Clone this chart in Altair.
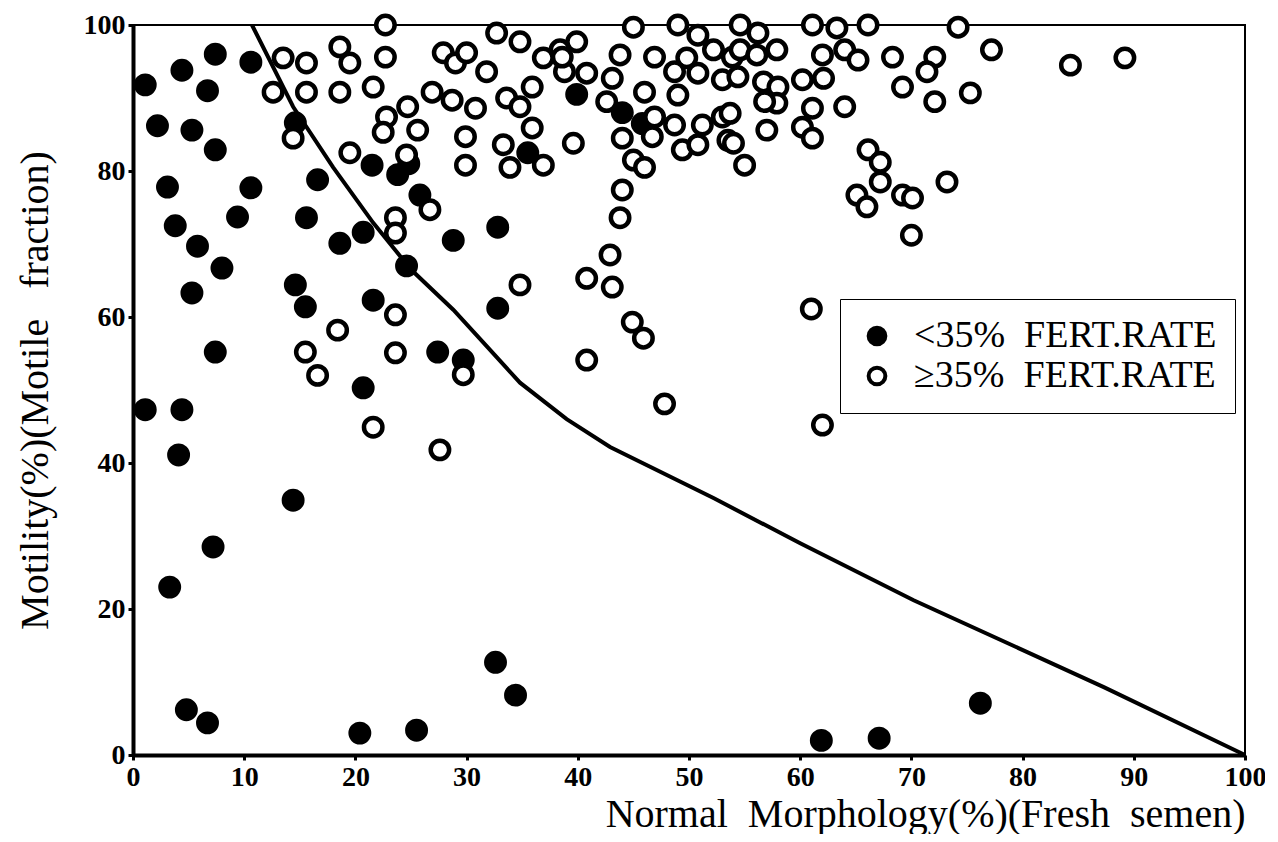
import altair as alt
import pandas as pd

# Filled dots: <35% fertilization rate
low_x = [1.1, 2.2, 3.1, 3.8, 4.4, 5.3, 5.8, 5.3, 6.7, 7.4, 7.4, 8.0, 7.4, 9.4, 10.6, 10.6,
         1.1, 4.4, 4.1, 3.3, 7.2, 4.8, 6.7, 14.6, 16.6, 21.5, 23.8, 24.8, 25.8, 15.6, 18.6,
         20.7, 28.8, 24.6, 14.6, 15.5, 21.6, 32.8, 27.4, 29.7, 20.7, 14.4, 20.4, 25.5, 32.6,
         34.4, 61.9, 67.1, 76.2, 39.9, 32.8, 35.5, 44.0, 45.8]
low_y = [91.8, 86.2, 77.8, 72.5, 93.8, 85.6, 69.7, 63.3, 91.0, 96.0, 82.9, 66.7, 55.2, 73.7, 94.9, 77.7,
         47.3, 47.3, 41.1, 23.0, 28.5, 6.2, 4.4, 86.6, 78.8, 80.8, 79.5, 81.0, 76.7, 73.6, 70.1,
         71.6, 70.5, 67.0, 64.4, 61.4, 62.3, 61.2, 55.2, 54.1, 50.3, 34.9, 3.0, 3.4, 12.7,
         8.2, 2.0, 2.3, 7.1, 90.5, 72.3, 82.5, 88.0, 86.5]

# Open dots: >=35% fertilization rate
high_x = [12.6, 13.5, 14.4, 15.6, 15.6, 18.6, 19.5, 18.6, 19.5, 22.7, 22.7, 21.6, 22.8, 22.5, 24.7,
          25.6, 24.6, 23.6, 23.6, 26.7, 26.9, 27.9, 29.0, 30.0, 31.8, 28.7, 30.8, 29.9, 29.9, 32.7,
          34.8, 36.9, 35.9, 33.6, 34.8, 35.9, 33.3, 33.9, 36.9, 38.4,
          39.9, 38.8, 40.8, 38.6, 43.1, 43.8, 45.0, 46.9, 49.0, 50.8, 52.2, 49.8, 48.7, 46.0, 49.0,
          50.8, 53.0, 53.9, 46.9, 44.0, 46.7, 48.7, 51.2, 53.0, 49.4, 50.8, 45.0, 46.0, 39.6, 44.0,
          53.5, 43.8, 42.6,
          54.6, 56.2, 54.6, 56.1, 57.9, 54.4, 56.7, 58.0, 57.9, 56.8, 60.2, 62.1, 61.1, 63.3, 66.1,
          62.0, 64.0, 65.2, 68.3, 69.2, 61.1, 64.0, 57.0, 60.2, 61.1, 53.7, 54.0, 55.0, 66.1, 67.2,
          67.2, 65.1, 69.2,
          74.2, 77.2, 72.1, 71.4, 72.1, 75.3, 66.0, 70.1, 73.2, 70.0, 84.3, 89.2,
          61.0, 62.0, 47.8, 40.8, 34.8, 42.9, 40.8, 43.1, 44.9, 45.9,
          18.4, 15.5, 16.6, 23.6, 23.6, 21.6, 27.6, 29.7]
high_y = [90.8, 95.5, 84.5, 94.8, 90.8, 97.0, 94.8, 90.8, 82.5, 100.0, 95.6, 91.5, 87.4, 85.3, 88.8,
          85.6, 82.2, 73.6, 71.5, 74.7, 90.8, 96.2, 94.8, 96.2, 93.6, 89.7, 88.6, 84.7, 80.8, 98.9,
          97.7, 95.5, 91.5, 90.0, 88.8, 85.9, 83.6, 80.5, 80.8, 96.6,
          97.7, 93.6, 93.4, 95.6, 92.7, 95.9, 99.7, 95.6, 100.0, 98.6, 96.6, 95.5, 93.6, 90.8, 90.4,
          93.4, 92.5, 95.6, 87.4, 84.5, 84.7, 86.3, 86.3, 87.4, 82.9, 83.6, 81.5, 80.5, 83.8, 77.4,
          84.2, 73.6, 89.5,
          100.0, 98.9, 96.6, 95.9, 96.6, 92.9, 92.2, 91.5, 89.3, 89.5, 92.5, 92.7, 100.0, 99.6, 100.0,
          95.9, 96.6, 95.2, 95.6, 91.5, 88.6, 88.8, 85.6, 86.0, 84.5, 87.9, 83.8, 80.8, 82.9, 81.2,
          78.5, 76.7, 76.7,
          99.7, 96.6, 95.6, 93.6, 89.5, 90.7, 75.1, 76.3, 78.5, 71.2, 94.5, 95.5,
          61.1, 45.2, 48.1, 54.1, 64.4, 68.5, 65.3, 64.1, 59.3, 57.1,
          58.2, 55.2, 52.0, 60.3, 55.1, 44.9, 41.8, 52.1]

# Boundary curve
line_x = [10.7, 14.4, 18.0, 21.6, 25.0, 28.8, 31.8, 34.8, 39.0, 42.9, 52.2, 60.0, 70.2, 87.3, 100.0]
line_y = [100.0, 88.8, 80.5, 72.9, 66.5, 61.0, 56.0, 51.0, 46.0, 42.2, 35.2, 29.0, 21.2, 9.3, 0.0]

groups = ["<35%\u00a0\u00a0FERT.RATE", "\u226535%\u00a0\u00a0FERT.RATE"]

pts = pd.DataFrame({
    "x": low_x + high_x,
    "y": low_y + high_y,
    "group": [groups[0]] * len(low_x) + [groups[1]] * len(high_x),
})
curve = pd.DataFrame({"x": line_x, "y": line_y})

xs = alt.Scale(domain=[0, 100], nice=False, zero=False)
ys = alt.Scale(domain=[0, 100], nice=False, zero=False)

xaxis = alt.Axis(values=list(range(0, 101, 10)),
                 title="Normal\u00a0\u00a0Morphology(%)(Fresh\u00a0\u00a0semen)",
                 titleAnchor="end", grid=False)
yaxis = alt.Axis(values=list(range(0, 101, 20)),
                 title="Motility(%)(Motile\u00a0\u00a0\u00a0fraction)", grid=False)

line = alt.Chart(curve).mark_line(color="black", strokeWidth=4, clip=False).encode(
    x=alt.X("x:Q", scale=xs, axis=xaxis),
    y=alt.Y("y:Q", scale=ys, axis=yaxis),
)

points = alt.Chart(pts).mark_point(shape="circle", filled=True, size=340, stroke="black",
                                   strokeWidth=4.5, opacity=1).encode(
    x=alt.X("x:Q", scale=xs, axis=xaxis),
    y=alt.Y("y:Q", scale=ys, axis=yaxis),
    fill=alt.Fill("group:N", scale=alt.Scale(domain=groups, range=["black", "white"]),
                  legend=alt.Legend(orient="none", legendX=707, legendY=274, title=None,
                                    strokeColor="black", padding=18,
                                    labelFont="Liberation Serif", labelFontSize=38,
                                    labelColor="black", labelOffset=18,
                                    symbolType="circle", symbolSize=280,
                                    symbolStrokeColor="black", symbolStrokeWidth=4,
                                    rowPadding=2, labelLimit=600)),
)

chart = alt.layer(line, points).properties(
    width=1112, height=730,
    autosize=alt.AutoSizeParams(type="none"),
    padding={"left": 125, "top": 17, "right": 20, "bottom": 79},
).configure_view(stroke="black", strokeWidth=2).configure_axis(
    domainColor="black", domainWidth=4, tickColor="black", tickWidth=3, tickSize=5,
    labelFont="Liberation Serif", labelFontWeight="bold", labelFontSize=28, labelColor="black",
    labelPadding=3, titleFont="Liberation Serif", titleFontWeight="normal", titleFontSize=40,
    titleColor="black", labelFlush=False,
).configure_axisX(titlePadding=3).configure_axisY(titlePadding=28)

chart.save("out.html", embed_options={"renderer": "svg", "actions": False})
